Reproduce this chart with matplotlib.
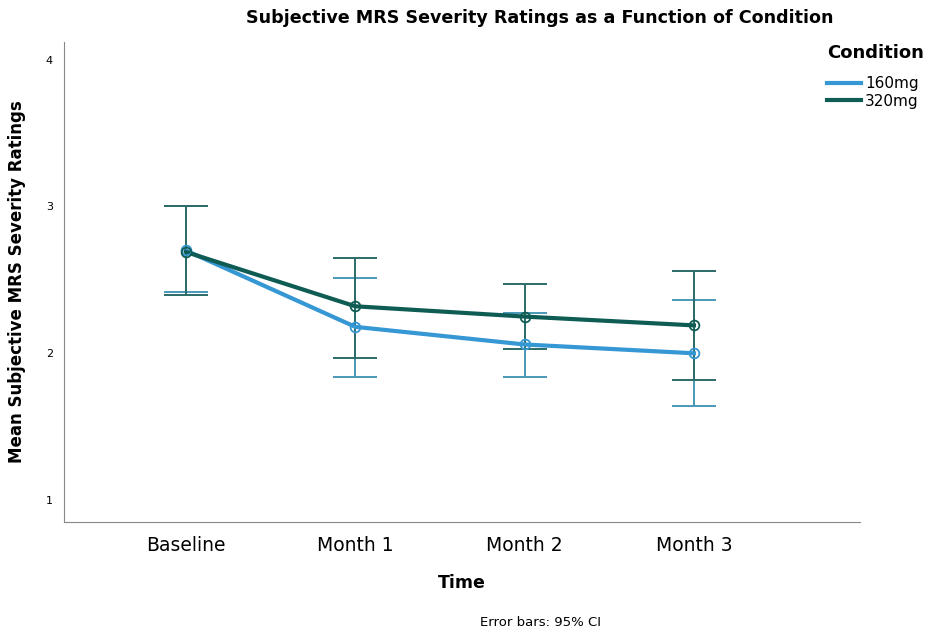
import matplotlib
matplotlib.use('Agg')
import matplotlib.pyplot as plt
from matplotlib.lines import Line2D

# data
times = ['Baseline', 'Month 1', 'Month 2', 'Month 3']
mean_160 = [2.70, 2.18, 2.06, 2.00]
low_160 = [2.42, 1.84, 1.84, 1.64]
high_160 = [3.00, 2.51, 2.275, 2.36]
mean_320 = [2.69, 2.32, 2.25, 2.19]
low_320 = [2.40, 1.97, 2.03, 1.82]
high_320 = [3.00, 2.65, 2.475, 2.56]
y_ticks = [1, 2, 3, 4]

c160 = '#3597d3'
c320 = '#0f5c55'
e160 = '#4a98b8'
e320 = '#2c6b68'

plt.rcParams['font.family'] = ['DejaVu Sans']

fig = plt.figure(figsize=(9.33, 6.36), dpi=100)
ax = fig.add_axes([0.0686, 0.179, 0.853, 0.755])

x = list(range(len(times)))

for mean, lo, hi, lc, ec in [(mean_160, low_160, high_160, c160, e160),
                              (mean_320, low_320, high_320, c320, e320)]:
    yerr = [[m - l for m, l in zip(mean, lo)], [h - m for m, h in zip(mean, hi)]]
    ax.errorbar(x, mean, yerr=yerr, fmt='none', ecolor=ec, elinewidth=1.4,
                capsize=15.5, capthick=1.4, zorder=2)
    ax.plot(x, mean, color=lc, lw=3, zorder=3)
    ax.plot(x, mean, 'o', ms=7, mfc='none', mec=lc, mew=1.3, zorder=4)

ax.set_xlim(-0.72, 3.98)
ax.set_ylim(0.85, 4.12)
ax.set_xticks(x)
ax.set_xticklabels(times, fontsize=13.5)
ax.set_yticks(y_ticks)
ax.set_yticklabels([str(v) for v in y_ticks], fontsize=8)
ax.tick_params(length=0, pad=8)
ax.tick_params(axis='x', pad=10)

for s in ['top', 'right']:
    ax.spines[s].set_visible(False)
for s in ['left', 'bottom']:
    ax.spines[s].set_color('#888888')
    ax.spines[s].set_linewidth(0.8)

ax.set_ylabel('Mean Subjective MRS Severity Ratings', fontsize=12,
              fontweight='bold', labelpad=14)
ax.set_xlabel('Time', fontsize=12.5, fontweight='bold', labelpad=14)

fig.text(0.579, 0.972, 'Subjective MRS Severity Ratings as a Function of Condition',
         ha='center', va='center', fontsize=12.6, fontweight='bold')
fig.text(0.579, 0.022, 'Error bars: 95% CI', ha='center', va='center', fontsize=9.5)

handles = [Line2D([0], [0], color=c160, lw=3), Line2D([0], [0], color=c320, lw=3)]
leg = fig.legend(handles, ['160mg', '320mg'], title='Condition',
                 loc='upper left', bbox_to_anchor=(0.875, 0.947), frameon=False,
                 fontsize=11, title_fontproperties={'weight': 'bold', 'size': 13},
                 handlelength=2.2, handletextpad=0.3, labelspacing=0.15,
                 borderpad=0.2)
leg._legend_box.align = 'left'
leg._legend_box.sep = 10

fig.savefig('out.png', dpi=100)
